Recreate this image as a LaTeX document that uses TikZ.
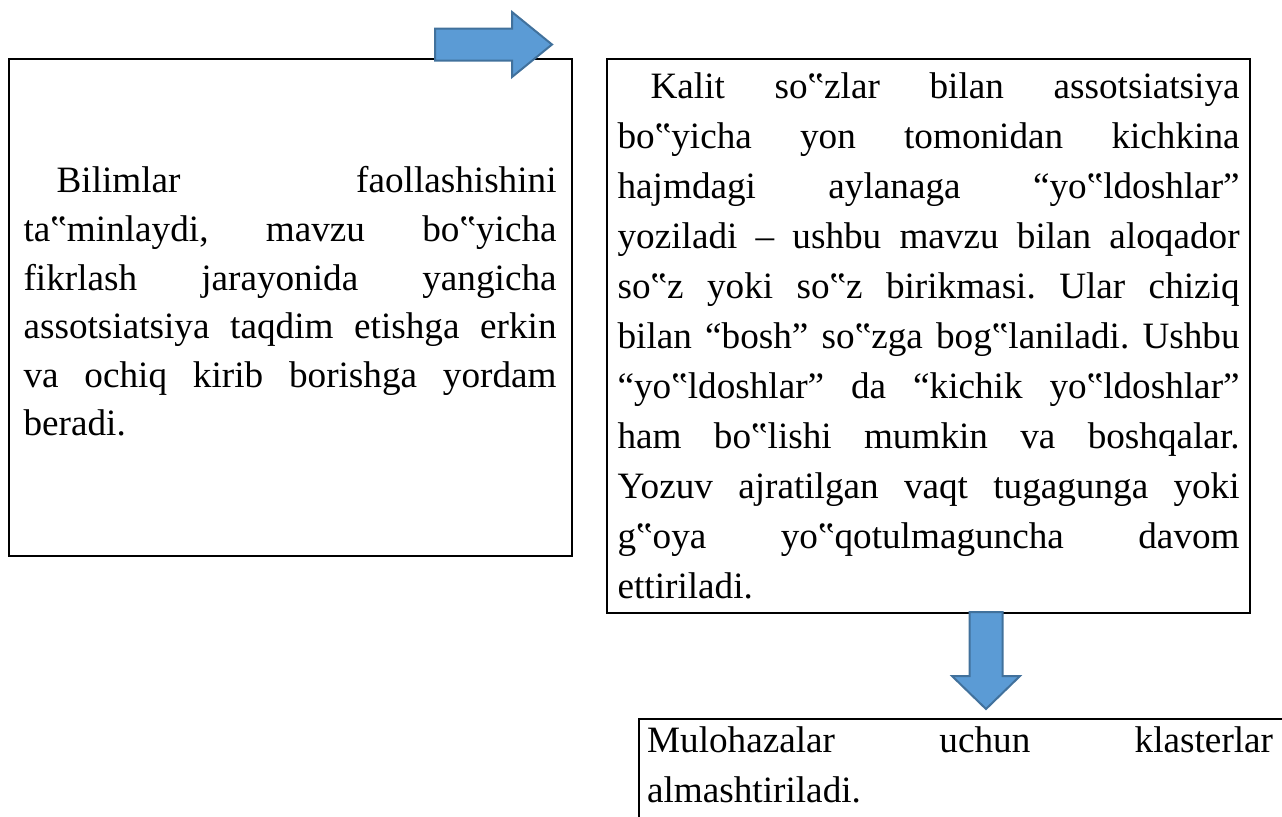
\documentclass[tikz,border=0pt]{standalone}
\usepackage{fontspec}
\setmainfont{Liberation Serif}
\definecolor{arrowfill}{HTML}{5B9BD5}
\definecolor{arrowline}{HTML}{41719C}
\newlength\lw
\newcommand\jline[1]{\hbox to\lw{\spaceskip=0.25em plus 1fil\xspaceskip=\spaceskip\relax #1}}
\newcommand\lastline[1]{\hbox to\lw{#1\hfil}}
\newcommand\ind{\hspace*{16.5pt}}
\begin{document}
\begin{tikzpicture}[x=0.5pt,y=-0.5pt,
  box/.style={draw=black,line width=1.1pt,anchor=north west,inner ysep=0pt,
    font=\fontsize{18.6pt}{25pt}\selectfont\frenchspacing},
  blockarrow/.style={fill=arrowfill,draw=arrowline,line width=1pt,line join=miter}]
\useasboundingbox (0,0) rectangle (1282,816);
\clip (0,0) rectangle (1282,816);

\node[box,text width=266.5pt,inner xsep=7.5pt,minimum height=248.5pt,
  font=\fontsize{18.6pt}{24.3pt}\selectfont\frenchspacing] (left) at (7.5,58) {%
\setlength\lw{266.5pt}%
\jline{\ind Bilimlar faollashishini}
\jline{ta‟minlaydi, mavzu bo‟yicha}
\jline{fikrlash jarayonida yangicha}
\jline{assotsiatsiya taqdim etishga erkin}
\jline{va ochiq kirib borishga yordam}
\lastline{beradi.}\vspace*{6pt}};

\node[box,text width=311pt,inner xsep=5.25pt,minimum height=277pt] (right) at (606,58) {%
\setlength\lw{311pt}%
\jline{\ind Kalit so‟zlar bilan assotsiatsiya}
\jline{bo‟yicha yon tomonidan kichkina}
\jline{hajmdagi aylanaga “yo‟ldoshlar”}
\jline{yoziladi – ushbu mavzu bilan aloqador}
\jline{so‟z yoki so‟z birikmasi. Ular chiziq}
\jline{bilan “bosh” so‟zga bog‟laniladi. Ushbu}
\jline{“yo‟ldoshlar” da “kichik yo‟ldoshlar”}
\jline{ham bo‟lishi mumkin va boshqalar.}
\jline{Yozuv ajratilgan vaqt tugagunga yoki}
\jline{g‟oya yo‟qotulmaguncha davom}
\lastline{ettiriladi.}};

\node[box,text width=318pt,inner xsep=4pt,inner ysep=4pt,text depth=30pt] (bottom) at (638,718) {%
\setlength\lw{313pt}%
\jline{Mulohazalar uchun klasterlar}
\lastline{almashtiriladi.}};

\draw[blockarrow] (435,28.5) -- (512,28.5) -- (512,12) -- (552,44.5) -- (512,77)
  -- (512,60.5) -- (435,60.5) -- cycle;
\draw[blockarrow] (969.5,612) -- (1002.5,612) -- (1002.5,676) -- (1020,676) -- (986,709)
  -- (952,676) -- (969.5,676) -- cycle;
\end{tikzpicture}
\end{document}
